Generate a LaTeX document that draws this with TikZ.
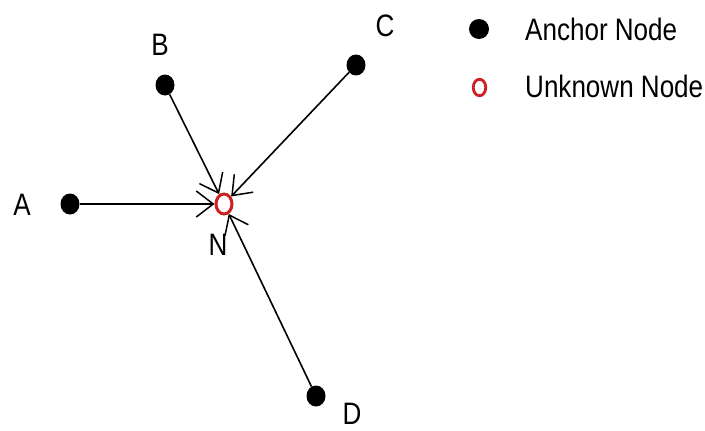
\documentclass[tikz,border=0pt]{standalone}
\usepackage{fontspec}
\setmainfont[FakeStretch=0.84]{Liberation Sans}
\usetikzlibrary{arrows.meta,shapes.geometric}
\definecolor{unkred}{RGB}{204,32,36}
\begin{document}
\begin{tikzpicture}[x=1pt,y=-1pt,
  anchordot/.style={ellipse, fill=black, inner sep=0pt, minimum width=19pt, minimum height=21pt},
  unknowndot/.style={ellipse, draw=unkred, line width=3pt, inner sep=0pt, minimum width=16pt, minimum height=20pt},
  lbl/.style={font=\fontsize{31}{31}\selectfont, inner sep=0pt, anchor=base},
  legtext/.style={font=\fontsize{31}{31}\selectfont, inner sep=0pt, anchor=base west},
  link/.style={line width=1.6pt, -{Straight Barb[length=17pt,width=26pt,line width=1.5pt]}}]
\useasboundingbox (0,0) rectangle (705,431);

% anchor nodes and the unknown node
\node[unknowndot] (N) at (224,204) {};
\node[anchordot] (A) at (70,204) {};
\node[anchordot] (B) at (165,85) {};
\node[anchordot] (C) at (356,65) {};
\node[anchordot] (D) at (316,396) {};

% labels
\node[lbl] (lA) at (22,215) {A};
\node[lbl] (lB) at (160,56) {B};
\node[lbl] (lC) at (385,36) {C};
\node[lbl] (lD) at (352,424) {D};
\node[lbl] (lN) at (218,255) {N};

% range links towards the unknown node
\draw[link] (A) -- (N);
\draw[link] (B) -- (N);
\draw[link] (C) -- (N);
\draw[link] (D) -- (N);

% legend
\node[anchordot, minimum width=20pt, minimum height=20pt] (legA) at (479,29) {};
\node[legtext] (legAt) at (525,40) {Anchor Node};
\node[unknowndot, line width=2.8pt, minimum width=12.5pt, minimum height=16.5pt] (legU) at (479.5,87.5) {};
\node[legtext] (legUt) at (525,97) {Unknown Node};
\end{tikzpicture}
\end{document}
